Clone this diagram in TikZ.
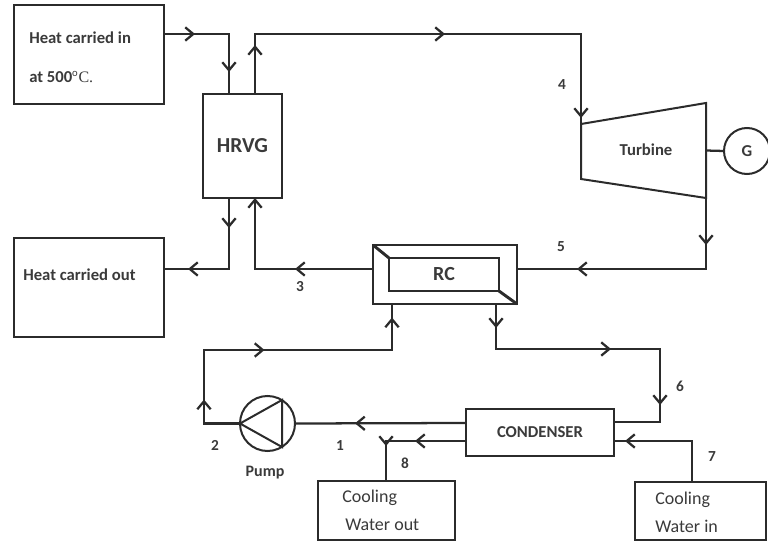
\documentclass[tikz,border=0pt]{standalone}
\usepackage{fontspec}
\setmainfont{Carlito}
\newfontfamily\serifpart{Liberation Serif}
\usetikzlibrary{arrows.meta,decorations.markings}
\definecolor{ink}{HTML}{2B2B2B}
\definecolor{txt}{HTML}{3A3A3A}
\tikzset{
  x=0.75pt,y=-0.75pt,
  box/.style={draw=ink,line width=1.5pt,rectangle,inner sep=0pt,outer sep=0pt,minimum width=#1*0.75pt},
  boxh/.style={minimum height=#1*0.75pt},
  conn/.style={draw=ink,line width=1.7pt,line join=miter},
  ar/.style={postaction={decorate,decoration={markings,mark=at position #1*0.75pt with {\arrow[line width=1.7pt]{Straight Barb[length=6pt,width=10pt]}}}}},
  lab/.style={text=txt,font=\fontsize{12.5pt}{14pt}\selectfont\bfseries,inner sep=0pt},
  tag/.style={text=txt,font=\fontsize{11.5pt}{14pt}\selectfont\bfseries,inner sep=0pt},
  plain/.style={text=txt,font=\fontsize{13.5pt}{21pt}\selectfont,inner sep=0pt,align=left},
  semi/.style={text=txt,font=\fontsize{12.5pt}{29pt}\selectfont\bfseries,inner sep=0pt,align=left},
}
\begin{document}
\begin{tikzpicture}
\useasboundingbox (0,0) rectangle (768,542);
% boxes
\node[box=150,boxh=99] (heatin) at (89,54.5) {};
\node[box=150,boxh=99] (heatout) at (89,287.5) {};
\node[box=79,boxh=104,lab,font=\fontsize{16pt}{18pt}\selectfont\bfseries] (hrvg) at (242.5,146) {HRVG};
\node[box=144,boxh=59] (rco) at (445,274.5) {};
\node[box=110,boxh=33,lab,font=\fontsize{15pt}{18pt}\selectfont\bfseries] (rci) at (444,274.5) {RC};
\draw[ink,line width=2.2pt] (rco.north west) -- (rci.north west);
\draw[ink,line width=2.2pt] (rci.south east) -- (rco.south east);
\node[box=148,boxh=47,lab] (cond) at (540,432.5) {CONDENSER};
\node[box=137,boxh=59] (cwout) at (386.5,510.5) {};
\node[box=131,boxh=58] (cwin) at (700.5,511) {};
% turbine
\node[minimum width=125*0.75pt,minimum height=95*0.75pt,inner sep=0pt,outer sep=0pt] (turb) at (643.5,150.5) {};
\draw[ink,line width=1.5pt,line join=miter] ([shift={(0,-26.5)}]turb.west) -- ([shift={(0,-47.5)}]turb.east) -- (turb.south east) -- ([shift={(0,28.5)}]turb.west) -- cycle;
\node[lab] (turbtxt) at (646,150) {Turbine};
\node[draw=ink,line width=1.5pt,circle,minimum size=46*0.75pt,inner sep=0pt,outer sep=0pt,lab] (gen) at (747,151) {G};
% pump
\node[draw=ink,line width=1.5pt,circle,minimum size=55*0.75pt,inner sep=0pt,outer sep=0pt] (pump) at (267.5,423.5) {};
\draw[ink,line width=1.5pt,line join=miter] (pump.west) -- ([shift={(14.5,-23.5)}]pump.center) -- ([shift={(14.5,23.5)}]pump.center) -- cycle;
% texts in boxes
\node[semi,anchor=west] (t1) at (29,57) {Heat carried in\\at 500{\serifpart\fontsize{12pt}{14pt}\selectfont\mdseries$^{\mathrm{o}}$C.}};
\node[lab,anchor=west] (t2) at (23,275) {Heat carried out};
\node[plain,anchor=west] (t3) at (342,510) {Cooling\\\,Water out};
\node[plain,anchor=west] (t4) at (655,512) {Cooling\\Water in};
% connectors
\draw[conn,ar=31,ar=103] ([shift={(0,-20.5)}]heatin.east) -| ([shift={(-13.5,0)}]hrvg.north);
\draw[conn,ar=49,ar=250,ar=470] ([shift={(12.5,0)}]hrvg.north) |- (461,34) -| ([shift={(0,-26.5)}]turb.west);
\draw[conn] (turb.east) -- (gen.west);
\draw[conn,ar=47,ar=200] (turb.south east) |- ([shift={(0,-5.5)}]rco.east);
\draw[conn,ar=78,ar=189] ([shift={(0,-5.5)}]rco.west) -| ([shift={(12.5,0)}]hrvg.south);
\draw[conn,ar=30,ar=112] ([shift={(-13.5,0)}]hrvg.south) |- ([shift={(0,-18.5)}]heatout.east);
\draw[conn,ar=24,ar=160,ar=265] ([shift={(51,0)}]rco.south) |- (660,349) |- ([shift={(0,-10.5)}]cond.east);
\draw[conn,ar=111] ([shift={(0,-9.5)}]cond.west) -- (pump.east);
\draw[conn,ar=60,ar=170,ar=330] (pump.west) -| (204,350) -| ([shift={(-53,0)}]rco.south);
\draw[conn,ar=51,ar=85] ([shift={(0,8.5)}]cond.west) -| ([shift={(-0.5,0)}]cwout.north);
\draw[conn,ar=108] ([shift={(-8.5,0)}]cwin.north) |- ([shift={(0,8.5)}]cond.east);
% labels
\node[tag] (n4) at (562,85) {4};
\node[tag] (n5) at (561,247) {5};
\node[tag] (n3) at (300,287) {3};
\node[tag] (n6) at (680,386) {6};
\node[tag] (n2) at (215,445) {2};
\node[tag] (n1) at (340,446) {1};
\node[tag] (n8) at (405,463) {8};
\node[tag] (n7) at (712,457) {7};
\node[lab,font=\fontsize{12pt}{14pt}\selectfont\bfseries] (pl) at (265,473) {Pump};
\end{tikzpicture}
\end{document}
